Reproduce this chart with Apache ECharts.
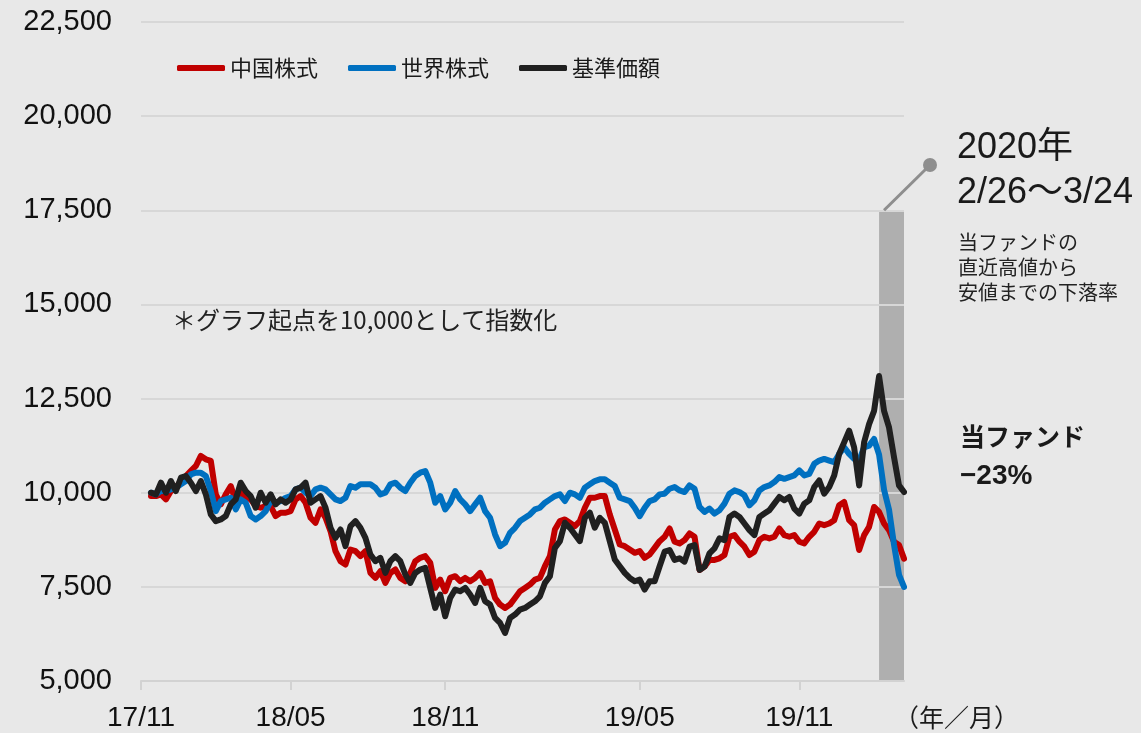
<!DOCTYPE html>
<html>
<head>
<meta charset="utf-8">
<script src="https://cdn.jsdelivr.net/npm/echarts@6/dist/echarts.min.js"></script>
<style>
  html, body { margin: 0; padding: 0; background: #e8e8e8; }
  #main { width: 1141px; height: 733px; }
</style>
</head>
<body>
<div id="main"></div>
<script>
// x軸の目盛ラベル（カテゴリ番号で位置を指定）
const tickLabels = ['17/11', '18/05', '18/11', '19/05', '19/11'];
const tickAt = [0, 30, 61, 100, 132];

// 2020/2/26～3/24 の帯（カテゴリ番号）
const bandFrom = 148;
const bandTo = 153;
const bandTop = 17500;

const china = [
  null, null,
  9911, 9911, 9956, 9823, 10044, 10133, 10310, 10444, 10577, 10710, 10976, 10887, 10843, 9956, 9690, 9956, 10177, 9778,
  10044, 9867, 9823, 9645, 9601, 9645, 9645, 9379, 9468, 9468, 9512, 9823, 9911, 9734, 9335, 9202, 9556, 9335, 8980, 8448,
  8182, 8093, 8492, 8448, 8315, 8448, 7871, 7738, 7916, 7605, 7871, 7960, 7738,
  7649, 7871, 8182, 8270, 8315, 8137, 7472, 7694, 7383, 7738, 7783, 7649, 7738, 7649, 7738, 7871, 7605, 7649, 7206, 7029,
  6940, 7029, 7206, 7383, 7472, 7561, 7694, 7738, 8049, 8315, 9024, 9246, 9290, 9202, 9113, 9246, 9601, 9867, 9867, 9911,
  9911, 9423, 9024, 8625, 8581, 8492, 8403, 8448, 8270, 8359, 8536, 8714,
  8830, 9050, 8698, 8654, 8742, 8918, 8830, 7950, 8038, 8214, 8214, 8258, 8346, 8830, 8874, 8698, 8566, 8346, 8434, 8742,
  8830, 8786, 8830, 9050, 8874, 8830, 8874, 8698, 8654, 8830, 8962, 9182, 9138, 9182, 9270, 9666, 9754, 9270, 9138, 8478,
  8874, 9094, 9622, 9490, 9182, 9006, 8698, 8610, 8250
];

const world = [
  null, null,
  10000, 9956, 10044, 10044, 10089, 10133, 10222, 10310, 10488, 10532, 10532, 10444, 10044, 9512, 9778, 9823, 9867, 9557,
  9823, 9734, 9379, 9290, 9379, 9512, 9778, 9734, 9778, 9867, 9911, 10089, 10133, 10000, 9911, 10089, 10133, 10089, 9956, 9823,
  9778, 9867, 10177, 10133, 10222, 10222, 10222, 10133, 9956, 10000, 10222, 10266, 10133,
  10044, 10266, 10444, 10532, 10577, 10266, 9734, 9911, 9557, 9734, 10044, 9823, 9690, 9512, 9690, 9867, 9512, 9335, 8891, 8581,
  8670, 8936, 9069, 9246, 9335, 9423, 9557, 9601, 9734, 9823, 9911, 9956, 9778, 10000, 9956, 9867, 10133, 10222, 10310, 10355,
  10355, 10266, 10177, 9867, 9823, 9778, 9601, 9379, 9601, 9778, 9823, 9956,
  9974, 10106, 10150, 10062, 10018, 10194, 10106, 9622, 9490, 9578, 9446, 9534, 9710, 9974, 10062, 10018, 9930, 9666, 9798, 10062,
  10150, 10194, 10282, 10414, 10370, 10414, 10458, 10590, 10458, 10502, 10766, 10854, 10898, 10854, 10810, 11030, 11206, 11030, 10898, 10854,
  11206, 11250, 11426, 11011, 10080, 9550, 8618, 7820, 7500
];

const fund = [
  null, null,
  10000, 9956, 10266, 10000, 10310, 10044, 10399, 10444, 10266, 10044, 10310, 9956, 9423, 9246, 9290, 9379, 9690, 9823,
  10266, 10044, 9911, 9601, 10000, 9734, 9956, 9690, 9823, 9734, 9823, 10089, 10133, 10266, 9734, 9823, 9911, 9601, 9069, 8803,
  9024, 8581, 9113, 9246, 9069, 8803, 8359, 8182, 8270, 7871, 8182, 8315, 8182,
  7827, 7605, 7871, 7960, 8004, 7472, 6940, 7295, 6718, 7206, 7428, 7383, 7472, 7295, 7073, 7472, 7117, 7029, 6674, 6541,
  6275, 6674, 6763, 6896, 6940, 7029, 7117, 7250, 7605, 7783, 8536, 8714, 9202, 9069, 8891, 8714, 9335, 9468, 9069, 9335,
  9202, 8714, 8226, 8049, 7871, 7738, 7649, 7694, 7428, 7649, 7649, 8049,
  8434, 8478, 8214, 8258, 8170, 8566, 8610, 7950, 8038, 8390, 8522, 8786, 8742, 9358, 9446, 9358, 9182, 9006, 8874, 9358,
  9446, 9534, 9710, 9886, 9798, 9886, 9578, 9446, 9710, 9798, 10150, 10326, 9974, 10150, 10458, 11030, 11338, 11646, 11206, 10194,
  11338, 11822, 12174, 13098, 12174, 11734, 10942, 10194, 10018
];

const cats = china.map((_, i) => String(i));

const FONT = "'Liberation Sans', 'Noto Sans CJK JP', sans-serif";
const CJK = "'Noto Sans CJK JP', sans-serif";

const chart = echarts.init(document.getElementById('main'));

const showTick = (idx) => tickAt.indexOf(idx) >= 0;

const lineSeries = (name, data, color) => ({
  name: name,
  type: 'line',
  data: data,
  symbol: 'none',
  smooth: false,
  lineStyle: { color: color, width: 6, join: 'round', cap: 'round' },
  itemStyle: { color: color },
  z: 3
});

chart.setOption({
  backgroundColor: '#e8e8e8',
  animation: false,
  grid: { left: 141, right: 237, top: 22, bottom: 52 },
  legend: {
    data: ['中国株式', '世界株式', '基準価額'],
    left: 172,
    top: 52,
    icon: 'roundRect',
    itemWidth: 48,
    itemHeight: 6,
    itemGap: 30,
    textStyle: { fontFamily: CJK, fontSize: 22, color: '#1a1a1a' }
  },
  xAxis: {
    type: 'category',
    data: cats,
    boundaryGap: false,
    name: '（年／月）',
    nameLocation: 'end',
    nameGap: -10,
    nameTextStyle: {
      fontFamily: CJK, fontSize: 25, color: '#1a1a1a',
      align: 'left', verticalAlign: 'top', padding: [24, 0, 0, 0]
    },
    axisLine: { lineStyle: { color: '#d2d2d2', width: 2 } },
    axisTick: { show: true, interval: showTick, length: 9, lineStyle: { color: '#d2d2d2', width: 2 } },
    axisLabel: {
      interval: showTick,
      formatter: (v, idx) => tickLabels[tickAt.indexOf(idx)] || '',
      margin: 23,
      fontFamily: FONT,
      fontSize: 28,
      color: '#111'
    },
    splitLine: { show: false }
  },
  yAxis: {
    type: 'value',
    min: 5000,
    max: 22500,
    interval: 2500,
    axisLine: { show: false },
    axisTick: { show: false },
    axisLabel: {
      margin: 29,
      fontFamily: FONT,
      fontSize: 29,
      color: '#111',
      formatter: (v) => v.toLocaleString('en-US')
    },
    splitLine: { lineStyle: { color: '#d7d7d7', width: 2 } }
  },
  series: [
    {
      name: 'band',
      type: 'line',
      data: [],
      silent: true,
      z: -1,
      markArea: {
        silent: true,
        z: -1,
        itemStyle: { color: '#afafaf' },
        data: [[{ xAxis: cats[bandFrom], yAxis: 5000 }, { xAxis: cats[bandTo], yAxis: bandTop }]]
      }
    },
    lineSeries('中国株式', china, '#c00000'),
    lineSeries('世界株式', world, '#0070c0'),
    lineSeries('基準価額', fund, '#202020')
  ]
});

// 注記（帯の上端から吹き出し線）
const p0 = chart.convertToPixel({ xAxisIndex: 0, yAxisIndex: 0 }, [cats[bandFrom + 1], bandTop]);
const dot = [930, 165];

chart.setOption({
  graphic: [
    {
      type: 'line', z: 10, silent: true,
      shape: { x1: p0[0], y1: p0[1], x2: dot[0], y2: dot[1] },
      style: { stroke: '#8e8e8e', lineWidth: 3 }
    },
    {
      type: 'circle', z: 10, silent: true,
      shape: { cx: dot[0], cy: dot[1], r: 7 },
      style: { fill: '#8e8e8e' }
    },
    {
      type: 'text', z: 10, silent: true, left: 957, top: 130,
      style: { text: '2020年', font: "36px 'Liberation Sans', 'Noto Sans CJK JP', sans-serif", fill: '#1a1a1a' }
    },
    {
      type: 'text', z: 10, silent: true, left: 957, top: 175,
      style: { text: '2/26～3/24', font: "36px 'Liberation Sans', 'Noto Sans CJK JP', sans-serif", fill: '#1a1a1a' }
    },
    {
      type: 'text', z: 10, silent: true, left: 958, top: 230,
      style: {
        text: '当ファンドの\n直近高値から\n安値までの下落率',
        font: "20px 'Noto Sans CJK JP', sans-serif", lineHeight: 25, fill: '#222'
      }
    },
    {
      type: 'text', z: 10, silent: true, left: 960, top: 424,
      style: { text: '当ファンド', font: "bold 25px 'Noto Sans CJK JP', sans-serif", fill: '#1a1a1a' }
    },
    {
      type: 'text', z: 10, silent: true, left: 960, top: 462,
      style: { text: '−23%', font: "bold 28px 'Liberation Sans', sans-serif", fill: '#1a1a1a' }
    },
    {
      type: 'text', z: 10, silent: true, left: 172, top: 308,
      style: { text: '＊グラフ起点を10,000として指数化', font: "24px 'Noto Sans CJK JP', sans-serif", fill: '#222' }
    }
  ]
});
</script>
</body>
</html>
